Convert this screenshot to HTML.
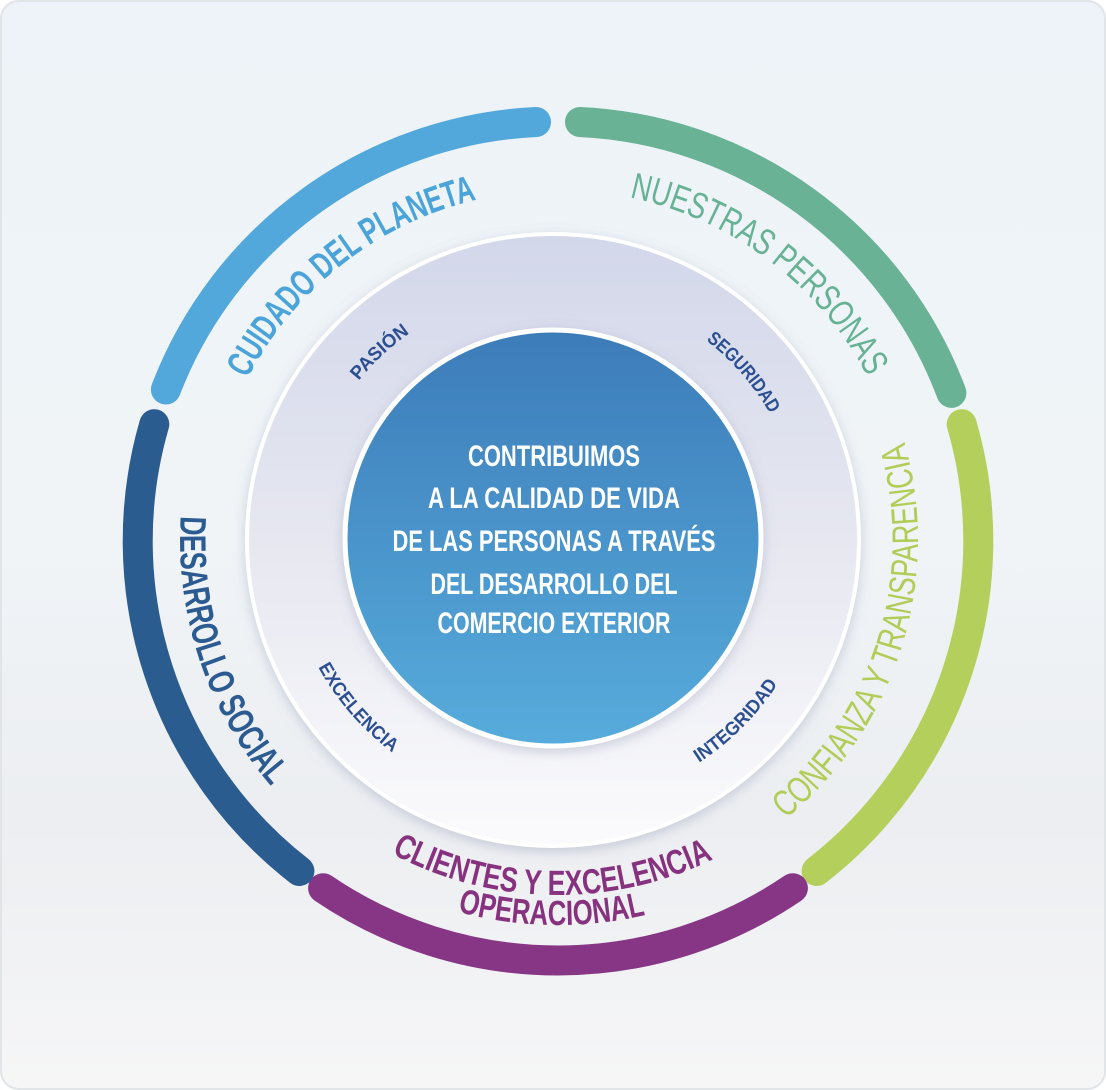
<!DOCTYPE html>
<html><head><meta charset="utf-8"><style>
html,body{margin:0;padding:0;width:1106px;height:1090px;overflow:hidden;background:#fff}
svg{display:block}
text{font-family:"Liberation Sans Narrow","Liberation Sans",sans-serif;font-weight:bold}
</style></head><body>
<svg width="1106" height="1090" viewBox="0 0 1106 1090" xmlns="http://www.w3.org/2000/svg">
<defs>
<linearGradient id="bg" x1="0" y1="0" x2="0" y2="1">
<stop offset="0" stop-color="#edf3f8"/><stop offset="0.5" stop-color="#f0f4f7"/><stop offset="0.75" stop-color="#eceef1"/><stop offset="1" stop-color="#f6f6f7"/>
</linearGradient>
<linearGradient id="ring" x1="0" y1="0" x2="0" y2="1">
<stop offset="0" stop-color="#d2d7ea"/><stop offset="0.5" stop-color="#e6e7f0"/><stop offset="1" stop-color="#fbfbfd"/>
</linearGradient>
<linearGradient id="core" x1="0" y1="0" x2="0" y2="1">
<stop offset="0" stop-color="#3d7cb9"/><stop offset="1" stop-color="#57acdc"/>
</linearGradient>
<filter id="sh" x="-20%" y="-20%" width="140%" height="140%"><feDropShadow dx="0" dy="4" stdDeviation="6" flood-color="#8088a8" flood-opacity="0.35"/></filter>
<path id="p1" d="M219.9,449.4 A350,350 0 0 1 551.9,190.1"/>
<path id="p2" d="M558,190 A350,350 0 0 1 894.5,443.5"/>
<path id="p3" d="M202.8,410.7 A378,378 0 0 0 352.1,857.0"/>
<path id="p4" d="M764.5,834.9 A360,360 0 0 0 896.3,416.9"/>
<path id="p5" d="M354.4,830.8 A355,355 0 0 0 751.3,837.7"/>
<path id="p6" d="M337.2,855.4 A385,385 0 0 0 767.7,862.9"/>
<path id="q1" d="M318.1,452.5 A250,250 0 0 1 484.1,297.7"/>
<path id="q2" d="M646.7,306.2 A250,250 0 0 1 795.6,477.5"/>
<path id="q3" d="M293.0,602.8 A268,268 0 0 0 452.6,786.5"/>
<path id="q4" d="M635.8,792.9 A268,268 0 0 0 807.9,620.8"/>
</defs>
<rect x="0" y="0" width="1106" height="1090" rx="18" fill="url(#bg)"/>
<rect x="1" y="1" width="1104" height="1088" rx="18" fill="none" stroke="#e2e5e8" stroke-width="2"/>

<g fill="none" stroke-width="30" stroke-linecap="round">
<path d="M165.9,389.5 A418,418 0 0 1 536,122" stroke="#52a8da"/>
<path d="M580,122 A418,418 0 0 1 951.4,392.9" stroke="#69b295"/>
<path d="M961.7,424.2 A418,418 0 0 1 816.6,871.0" stroke="#b4cf5c"/>
<path d="M792.9,888.2 A418,418 0 0 1 323.1,888.2" stroke="#873585"/>
<path d="M299.4,871.0 A418,418 0 0 1 154.3,424.2" stroke="#2a5c90"/>
</g>

<circle cx="553" cy="540" r="306" fill="url(#ring)" stroke="#ffffff" stroke-width="4" filter="url(#sh)"/>
<circle cx="553" cy="538" r="208" fill="url(#core)" stroke="#ffffff" stroke-width="5" filter="url(#sh)"/>

<g font-size="37">
<text fill="#4aa4d9"><textPath href="#p1" startOffset="50%" text-anchor="middle" textLength="300" lengthAdjust="spacingAndGlyphs">CUIDADO DEL PLANETA</textPath></text>
<text fill="#67b294" style="font-weight:normal"><textPath href="#p2" startOffset="50%" text-anchor="middle" textLength="308" lengthAdjust="spacingAndGlyphs">NUESTRAS PERSONAS</textPath></text>
<text fill="#2b5b91"><textPath href="#p3" startOffset="50%" text-anchor="middle" textLength="292" lengthAdjust="spacingAndGlyphs">DESARROLLO SOCIAL</textPath></text>
<text fill="#b1cd57" style="font-weight:normal"><textPath href="#p4" startOffset="50%" text-anchor="middle" textLength="418" lengthAdjust="spacingAndGlyphs">CONFIANZA Y TRANSPARENCIA</textPath></text>
<text fill="#87327f" font-size="35"><textPath href="#p5" startOffset="50%" text-anchor="middle" textLength="334" lengthAdjust="spacingAndGlyphs">CLIENTES Y EXCELENCIA</textPath></text>
<text fill="#87327f" font-size="35"><textPath href="#p6" startOffset="50%" text-anchor="middle" textLength="190" lengthAdjust="spacingAndGlyphs">OPERACIONAL</textPath></text>
</g>

<g font-size="19" fill="#2c4f92">
<text><textPath href="#q1" startOffset="50%" text-anchor="middle" textLength="70" lengthAdjust="spacingAndGlyphs">PASIÓN</textPath></text>
<text><textPath href="#q2" startOffset="50%" text-anchor="middle" textLength="98" lengthAdjust="spacingAndGlyphs">SEGURIDAD</textPath></text>
<text><textPath href="#q3" startOffset="50%" text-anchor="middle" textLength="114" lengthAdjust="spacingAndGlyphs">EXCELENCIA</textPath></text>
<text><textPath href="#q4" startOffset="50%" text-anchor="middle" textLength="112" lengthAdjust="spacingAndGlyphs">INTEGRIDAD</textPath></text>
</g>

<g font-size="30" fill="#ffffff" text-anchor="middle">
<text x="554" y="466" textLength="172" lengthAdjust="spacingAndGlyphs">CONTRIBUIMOS</text>
<text x="554" y="508" textLength="252" lengthAdjust="spacingAndGlyphs">A LA CALIDAD DE VIDA</text>
<text x="554" y="551" textLength="323" lengthAdjust="spacingAndGlyphs">DE LAS PERSONAS A TRAVÉS</text>
<text x="554" y="594" textLength="247" lengthAdjust="spacingAndGlyphs">DEL DESARROLLO DEL</text>
<text x="554" y="633" textLength="233" lengthAdjust="spacingAndGlyphs">COMERCIO EXTERIOR</text>
</g>
</svg>
</body></html>
